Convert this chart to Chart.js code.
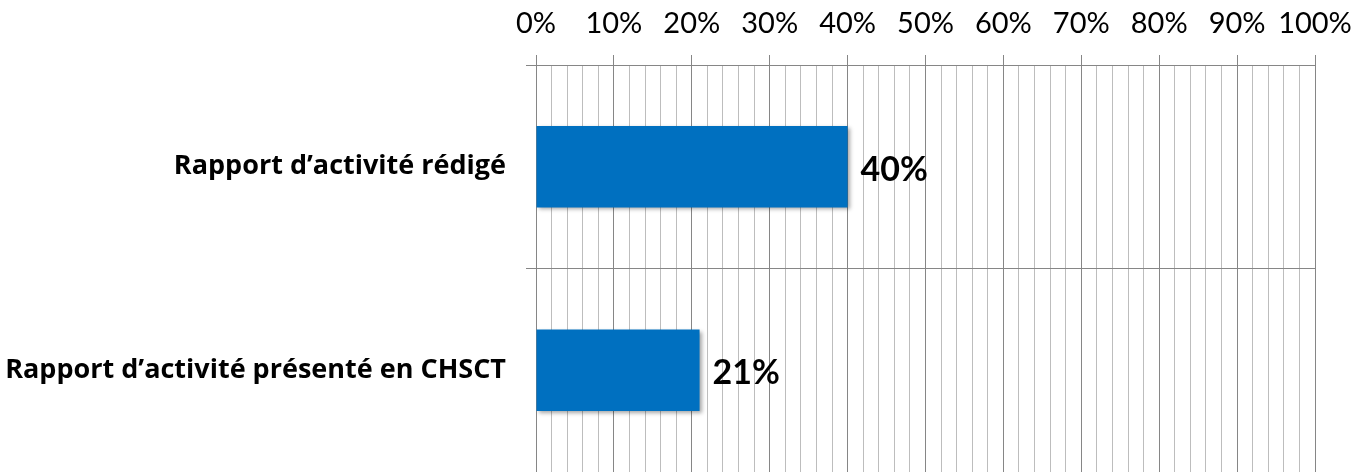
<!DOCTYPE html>
<html>
<head>
<meta charset="utf-8">
<script src="https://cdn.jsdelivr.net/npm/chart.js@4"></script>
<style>
  html, body { margin: 0; padding: 0; background: #fff; overflow: hidden; }
  #activityChart { display: block; }
</style>
</head>
<body>
<canvas id="activityChart" width="1357" height="474"></canvas>
<script>
// ===================== DATA =====================
const categories = ['Rapport d\u2019activité rédigé', 'Rapport d\u2019activité présenté en CHSCT'];
const percentValues = [40, 21];
const tickLabels = ['0%', '10%', '20%', '30%', '40%', '50%', '60%', '70%', '80%', '90%', '100%'];

const MAJOR = '#868686';
const MINOR = '#bdbdbd';

// bar shadow + value labels
const barDecor = {
  id: 'barDecor',
  beforeDatasetsDraw(chart) {
    const c = chart.ctx;
    c.save();
    c.shadowColor = 'rgba(0,0,0,0.35)';
    c.shadowBlur = 4;
    c.shadowOffsetX = 2;
    c.shadowOffsetY = 2;
  },
  afterDatasetsDraw(chart) {
    const c = chart.ctx;
    c.restore();
    c.save();
    c.font = 'bold 34px Lato';
    c.fillStyle = '#000';
    c.textAlign = 'left';
    c.textBaseline = 'middle';
    chart.getDatasetMeta(0).data.forEach((bar, i) => {
      c.fillText(percentValues[i] + '%', bar.x + 13, bar.y + 3);
    });
    c.restore();
  }
};

const ctx = document.getElementById('activityChart').getContext('2d');
const activityChart = new Chart(ctx, {
  type: 'bar',
  data: {
    labels: categories,
    datasets: [{
      data: percentValues,
      backgroundColor: '#0070C0',
      borderWidth: 0,
      categoryPercentage: 1,
      barPercentage: 0.4
    }]
  },
  plugins: [barDecor],
  options: {
    indexAxis: 'y',
    responsive: false,
    animation: false,
    layout: { padding: { left: 0, top: 0, right: 42, bottom: 2 } },
    plugins: {
      legend: { display: false },
      tooltip: { enabled: false }
    },
    scales: {
      x: {
        position: 'top',
        min: 0,
        max: 100,
        afterFit: (scale) => { scale.height = 65; scale.paddingRight = 0; scale.paddingLeft = 0; },
        ticks: {
          stepSize: 2,
          autoSkip: false,
          maxRotation: 0,
          padding: 14,
          color: '#000',
          font: { family: 'Lato', size: 29 },
          callback: (v) => (v % 10 === 0 ? tickLabels[v / 10] : '')
        },
        grid: {
          color: (c) => (c.tick && c.tick.value % 10 === 0 ? MAJOR : MINOR),
          tickColor: (c) => (c.tick && c.tick.value % 10 === 0 ? MAJOR : 'rgba(0,0,0,0)'),
          tickLength: 10,
          lineWidth: 1
        },
        border: { color: MAJOR }
      },
      y: {
        afterFit: (scale) => { scale.width = 536; scale.paddingTop = 0; scale.paddingBottom = 0; },
        ticks: {
          padding: 20,
          color: '#000',
          font: { family: 'Open Sans', size: 27, weight: 'bold' }
        },
        grid: {
          offset: true,
          color: MAJOR,
          tickColor: MAJOR,
          tickLength: 10
        },
        border: { color: MAJOR }
      }
    }
  }
});
</script>
</body>
</html>
